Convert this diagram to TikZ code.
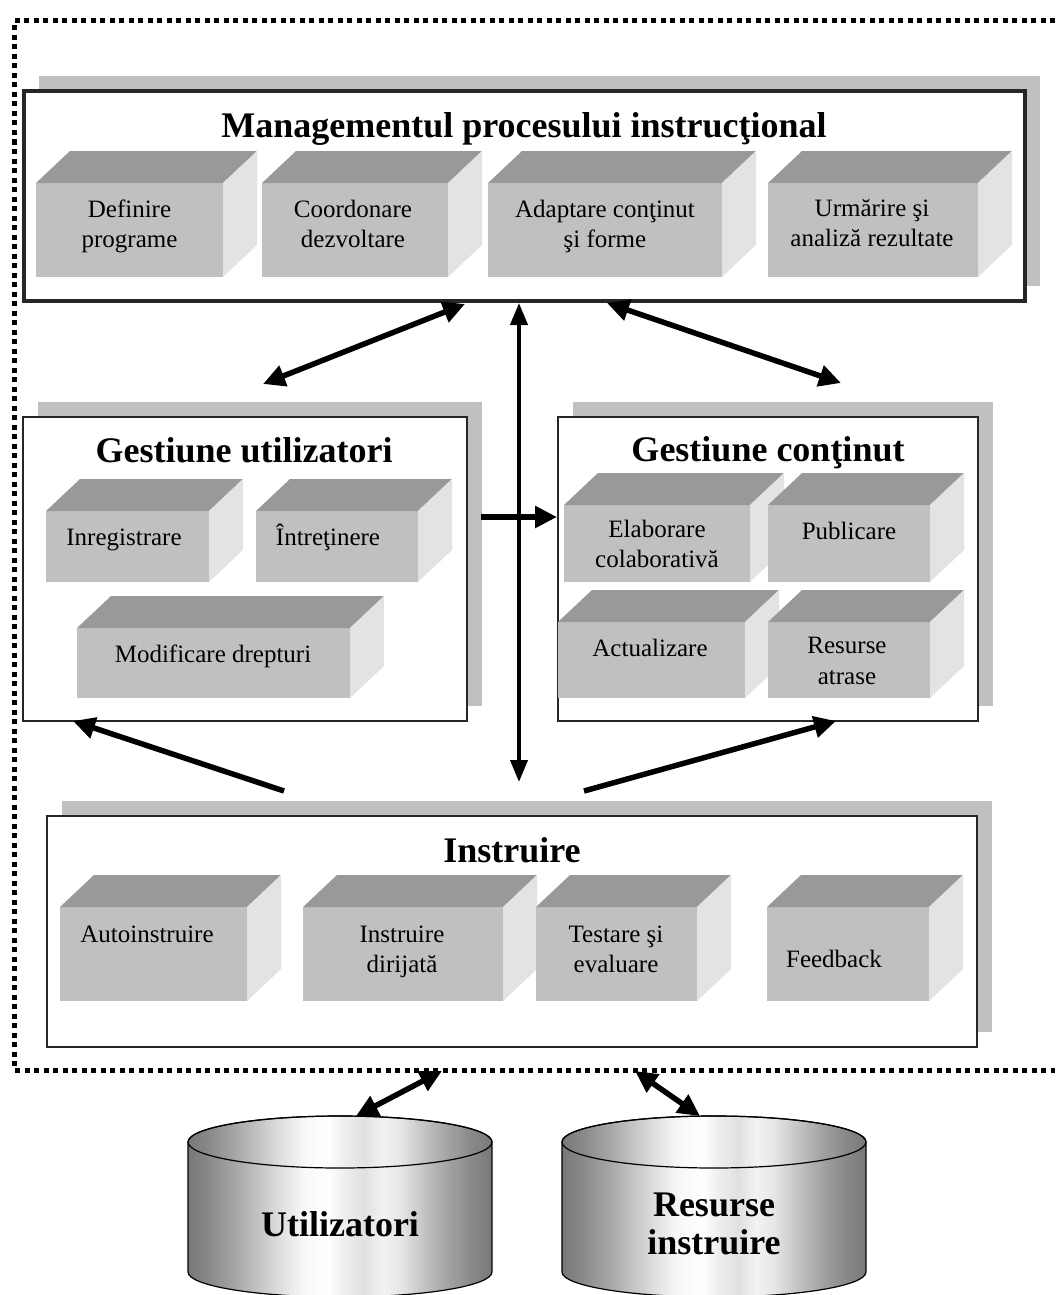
\documentclass[tikz,border=0pt]{standalone}
\usepackage{fontspec}
\setmainfont{Liberation Serif}
\usetikzlibrary{arrows.meta,shadows}
\definecolor{sgray}{RGB}{192,192,192}
\definecolor{cfront}{RGB}{192,192,192}
\definecolor{ctop}{RGB}{153,153,153}
\definecolor{cright}{RGB}{227,227,227}
\pgfdeclarehorizontalshading{cylshade}{100bp}{rgb(0bp)=(.47,.47,.47); rgb(25bp)=(.47,.47,.47); rgb(28bp)=(.53,.53,.53); rgb(32bp)=(.63,.63,.63); rgb(36bp)=(.75,.75,.75); rgb(40bp)=(.87,.87,.87); rgb(44bp)=(.97,.97,.97); rgb(48bp)=(1,1,1); rgb(51bp)=(.93,.93,.93); rgb(54bp)=(.88,.88,.88); rgb(57bp)=(.95,.95,.95); rgb(60bp)=(.9,.9,.9); rgb(64bp)=(.76,.76,.76); rgb(68bp)=(.63,.63,.63); rgb(72bp)=(.53,.53,.53); rgb(75bp)=(.47,.47,.47); rgb(100bp)=(.47,.47,.47)}
\newcommand{\cubebox}[5]{%
  \node[cubefront, minimum width=#4pt, minimum height=#5pt] (#1) at (#2,#3) {};
  \fill[ctop] (#1.north west) -- ++(34,-32) -- ([shift={(34,-32)}]#1.north east) -- (#1.north east) -- cycle;
  \fill[cright] (#1.north east) -- ++(34,-32) -- ([shift={(34,-32)}]#1.south east) -- (#1.south east) -- cycle;
}
\begin{document}
\begin{tikzpicture}[x=1pt,y=-1pt,
  container/.style={draw=black!85, line width=2pt, fill=white, inner sep=0pt, outer sep=0pt,
     drop shadow={shadow xshift=15pt, shadow yshift=15pt, fill=sgray, opacity=1}},
  cubefront/.style={fill=cfront, inner sep=0pt, outer sep=0pt},
  cubetext/.style={font=\fontsize{25}{30.5}\selectfont, align=center, inner sep=0pt, anchor=base},
  titletext/.style={font=\fontsize{36}{40}\selectfont\bfseries, inner sep=0pt, anchor=base},
  cyltext/.style={font=\fontsize{36}{38}\selectfont\bfseries, align=center, inner sep=0pt, anchor=base},
  darr/.style={line width=5.5pt, {Triangle[length=22pt,width=21pt]}-{Triangle[length=22pt,width=21pt]}},
  sarr/.style={line width=5.5pt, -{Triangle[length=22pt,width=21pt]}},
  varr/.style={line width=4pt, {Triangle[length=22pt,width=17pt]}-{Triangle[length=22pt,width=17pt]}},
  frame/.style={line width=5pt, dash pattern=on 5pt off 4.5pt}
]
\useasboundingbox (0,0) rectangle (1055,1295);

% dotted frame
\draw[frame] (1055,21) -- (14.5,21) -- (14.5,1070) -- (1055,1070);

% containers
\node[container, line width=3.5pt, minimum width=1001pt, minimum height=210pt] (mgmt) at (524.5,196) {};
\node[container, minimum width=444pt, minimum height=304pt] (gu) at (245,569) {};
\node[container, minimum width=420pt, minimum height=304pt] (gc) at (768,569) {};
\node[container, minimum width=930pt, minimum height=231pt] (instr) at (512,931.5) {};

% titles
\node[titletext] (mgmt-t) at (524,137) {Managementul procesului instrucţional};
\node[titletext] (gu-t) at (244,462) {Gestiune utilizatori};
\node[titletext] (gc-t) at (768,461) {Gestiune conţinut};
\node[titletext] (instr-t) at (512,862) {Instruire};

% management cubes (multi-line labels anchored at the last line's baseline)
\cubebox{def}{129.5}{230}{187}{94}
\cubebox{coo}{355}{230}{186}{94}
\cubebox{ada}{605}{230}{234}{94}
\cubebox{urm}{873}{230}{210}{94}
\node[cubetext] (def-l) at (129.5,247.5) {Definire\\programe};
\node[cubetext] (coo-l) at (353,247.5) {Coordonare\\dezvoltare};
\node[cubetext] (ada-l) at (605,247.5) {Adaptare conţinut\\şi forme};
\node[cubetext] (urm-l) at (872,246.5) {Urmărire şi\\analiză rezultate};

% gestiune utilizatori cubes
\cubebox{inr}{127.5}{546.5}{163}{71}
\cubebox{intr}{337}{546.5}{162}{71}
\cubebox{mod}{213.5}{663}{273}{70}
\node[cubetext] (inr-l) at (124,545) {Inregistrare};
\node[cubetext] (intr-l) at (328,545) {Întreţinere};
\node[cubetext] (mod-l) at (213,662) {Modificare drepturi};

% gestiune continut cubes
\cubebox{ela}{657}{543.5}{186}{77}
\cubebox{pub}{849}{543.5}{162}{77}
\cubebox{act}{651.5}{660}{187}{76}
\cubebox{res}{849}{660}{162}{76}
\node[cubetext] (ela-l) at (657,567.5) {Elaborare\\colaborativă};
\node[cubetext] (pub-l) at (849,539) {Publicare};
\node[cubetext] (act-l) at (650,656) {Actualizare};
\node[cubetext] (res-l) at (847,684) {Resurse\\atrase};

% instruire cubes
\cubebox{aut}{153.5}{954}{187}{94}
\cubebox{dir}{403}{954}{200}{94}
\cubebox{tes}{616.5}{954}{161}{94}
\cubebox{fee}{848}{954}{162}{94}
\node[cubetext] (aut-l) at (147,942) {Autoinstruire};
\node[cubetext] (dir-l) at (402,972.5) {Instruire\\dirijată};
\node[cubetext] (tes-l) at (616,972.5) {Testare şi\\evaluare};
\node[cubetext] (fee-l) at (834,967) {Feedback};

% arrow end points
\coordinate (m-l) at (465,304);
\coordinate (gu-top) at (263,384);
\coordinate (m-c) at (519,303);
\coordinate (in-top) at (519,782);
\coordinate (m-r) at (607,303);
\coordinate (gc-top) at (841,383);
\coordinate (gu-r) at (481,517);
\coordinate (gc-l) at (557,517);
\coordinate (in-l) at (284,791);
\coordinate (gu-bl) at (73,721);
\coordinate (in-r) at (584,791);
\coordinate (gc-br) at (836,721);
\coordinate (fr-l) at (442,1071);
\coordinate (fr-r) at (635,1071);
\coordinate (cu-top) at (356,1116);
\coordinate (cr-top) at (700,1116);

\draw[darr] (gu-top) -- (m-l);
\draw[varr] (m-c) -- (in-top);
\draw[darr] (m-r) -- (gc-top);
\draw[sarr] (gu-r) -- (gc-l);
\draw[sarr] (in-l) -- (gu-bl);
\draw[sarr] (in-r) -- (gc-br);
\draw[darr] (cu-top) -- (fr-l);
\draw[darr] (fr-r) -- (cr-top);

% cylinders
\shadedraw[shading=cylshade, line width=1.2pt] (188,1142) -- (188,1272) arc[start angle=180,end angle=0,x radius=152,y radius=25] -- (492,1142) arc[start angle=0,end angle=-180,x radius=152,y radius=26] -- cycle;
\draw[line width=1.2pt] (340,1142) ellipse [x radius=152, y radius=26];
\shadedraw[shading=cylshade, line width=1.2pt] (562,1142) -- (562,1272) arc[start angle=180,end angle=0,x radius=152,y radius=25] -- (866,1142) arc[start angle=0,end angle=-180,x radius=152,y radius=26] -- cycle;
\draw[line width=1.2pt] (714,1142) ellipse [x radius=152, y radius=26];
\node[cyltext] (utl) at (340,1236) {Utilizatori};
\node[cyltext] (resi) at (714,1254) {Resurse\\instruire};
\end{tikzpicture}
\end{document}
